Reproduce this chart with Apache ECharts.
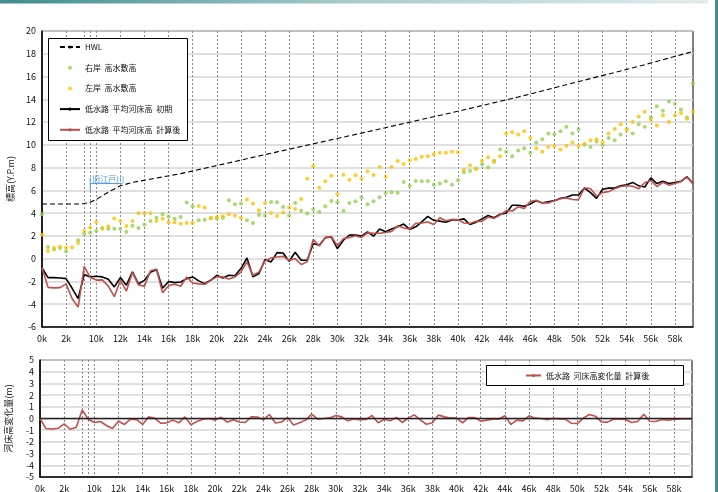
<!DOCTYPE html>
<html>
<head>
<meta charset="utf-8">
<script src="https://cdn.jsdelivr.net/npm/echarts@6/dist/echarts.min.js"></script>
<style>
  html, body { margin: 0; padding: 0; background: #fff; }
  #chart { width: 718px; height: 492px; }
</style>
</head>
<body>
<div id="chart"></div>
<script>
// Cross-section stations (km). The floodway runs 0-3.5k, the main channel resumes at 9.5k.
const stations = ['0','0.5','1','1.5','2','2.5','3','3.5','9.5','10','10.5','11','11.5','12','12.5','13','13.5','14','14.5','15','15.5','16','16.5','17','17.5','18','18.5','19','19.5','20','20.5','21','21.5','22','22.5','23','23.5','24','24.5','25','25.5','26','26.5','27','27.5','28','28.5','29','29.5','30','30.5','31','31.5','32','32.5','33','33.5','34','34.5','35','35.5','36','36.5','37','37.5','38','38.5','39','39.5','40','40.5','41','41.5','42','42.5','43','43.5','44','44.5','45','45.5','46','46.5','47','47.5','48','48.5','49','49.5','50','50.5','51','51.5','52','52.5','53','53.5','54','54.5','55','55.5','56','56.5','57','57.5','58','58.5','59','59.5'];

// Stations carrying a km label and a grid line
const labelStations = ['0','2','10','12','14','16','18','20','22','24','26','28','30','32','34','36','38','40','42','44','46','48','50','52','54','56','58'];
// Extra grid lines at the floodway end and the main-channel start
const junctionStations = ['3.5','9.5'];

// Design high water level (break points)
const hwl = [['0',4.8],['3',4.8],['3.5',4.85],['9.5',4.95],['10',5.2],['11',5.85],['12',6.4],['13',6.7],['17',7.47],['20',8.18],['25',9.38],['30',10.56],['33',11.27],['40',12.95],['45',14.2],['50',15.55],['55',16.9],['59.5',18.2]];

// Right-bank floodplain elevation
const rightBank = [3.9,1.03,0.8,0.95,0.65,null,1.62,2.2,
  2.3,2.43,2.7,2.64,2.64,2.64,2.36,
  2.9,2.7,3.0,3.3,3.6,3.9,3.7,3.5,
  3.66,4.93,4.6,3.37,3.43,3.55,3.54,3.6,5.13,4.78,
  4.84,3.37,3.13,3.84,3.78,4.98,4.95,4.54,3.78,4.9,
  4.22,3.96,4.37,4.1,4.6,5.07,4.95,4.22,4.9,5.04,
  5.39,4.78,5.04,5.39,5.77,5.83,5.8,6.74,6.41,6.82,
  6.8,6.82,6.5,
  6.6,6.8,6.5,6.9,7.6,7.7,7.9,8.3,8.0,8.6,
  9.6,9.4,9.0,9.5,9.7,9.3,10.2,10.5,11.0,10.9,
  11.2,11.6,11.0,11.4,10.0,9.8,10.3,10.0,10.6,10.4,
  10.9,11.4,11.0,11.8,11.6,12.4,13.4,13.0,13.8,13.6,
  13.1,12.4,15.4];

// Left-bank floodplain elevation
const leftBank = [2.1,0.68,0.95,1.05,0.98,0.98,1.38,2.43,
  2.73,3.23,2.64,2.85,3.52,3.31,2.87,
  3.3,4.0,4.0,4.0,3.3,3.5,3.2,3.2,
  3.08,3.13,3.13,4.63,4.49,3.6,3.66,3.72,3.9,3.78,
  3.6,5.21,4.84,4.25,4.9,4.02,3.75,4.05,4.49,4.37,
  5.24,7.03,8.11,6.24,6.8,7.29,5.65,7.38,6.94,7.32,
  7.03,7.67,7.35,8.05,7.23,8.05,8.58,8.32,8.64,8.76,
  8.96,8.99,9.17,
  9.3,9.3,9.4,9.35,7.8,8.2,7.9,8.6,8.9,8.5,
  9.0,11.0,11.1,10.9,11.2,10.6,9.7,9.4,9.8,9.9,
  9.6,9.9,10.2,9.9,10.1,10.4,10.5,10.2,11.0,11.4,
  11.8,11.3,12.0,12.5,12.9,12.2,11.7,12.6,12.0,12.6,
  12.8,12.3,12.9];

// Low-water channel mean bed elevation, initial
const bedInitial = [-0.78,-1.66,-1.66,-1.7,-1.75,-2.6,-3.5,-1.39,
  -1.6,-1.54,-1.6,-1.81,-2.48,-1.66,-2.33,
  -1.15,-2.2,-1.9,-1.2,-0.95,-2.6,-2.0,-2.1,
  -2.05,-1.75,-1.6,-1.95,-2.19,-1.9,-1.46,-1.7,-1.46,-1.5,
  -0.87,0.06,-1.6,-1.3,-0.08,-0.28,0.53,0.5,-0.22,0.56,
  -0.14,-0.14,1.33,1.18,1.85,1.9,0.88,1.62,2.07,2.07,
  1.98,2.36,1.98,2.6,2.36,2.6,2.8,3.04,2.57,2.8,
  3.24,3.72,3.37,
  3.3,3.2,3.4,3.4,3.5,3.0,3.2,3.5,3.8,3.6,
  3.9,4.0,4.7,4.7,4.6,4.8,5.1,4.9,5.0,5.1,
  5.3,5.4,5.6,5.6,6.2,5.8,5.3,6.1,6.2,6.2,
  6.4,6.5,6.7,6.4,6.3,7.1,6.6,6.8,6.6,6.7,
  6.8,7.2,6.6];

// Low-water channel mean bed elevation, computed
const bedComputed = [-0.78,-2.52,-2.56,-2.54,-2.21,-3.52,-4.25,-0.67,
  -1.66,-1.88,-1.86,-2.41,-3.34,-1.89,-2.84,
  -1.21,-2.3,-2.41,-1.06,-0.93,-3.0,-2.37,-2.24,
  -2.42,-1.61,-2.14,-2.21,-2.25,-1.9,-1.6,-1.6,-1.78,-1.6,
  -1.17,-0.28,-1.46,-1.17,-0.2,0.06,0.15,0.2,-0.14,0.0,
  -0.51,-0.28,1.7,1.12,1.85,1.95,1.14,1.76,1.87,2.02,
  1.87,2.27,2.24,2.23,2.3,2.4,2.89,2.7,2.6,3.11,
  3.13,3.23,3.0,
  3.59,3.34,3.45,3.43,3.13,3.09,3.29,3.27,3.66,3.54,
  3.84,4.23,4.19,4.56,4.4,5.03,5.13,4.9,4.89,5.1,
  5.27,5.34,5.2,5.17,6.23,6.14,5.5,5.81,5.89,6.14,
  6.34,6.41,6.36,6.14,6.67,6.87,6.34,6.71,6.46,6.61,
  6.77,7.17,6.57];

// Bed elevation change (computed minus initial)
const bedChange = [0.0,-0.86,-0.9,-0.84,-0.46,-0.92,-0.75,0.72,
  -0.06,-0.34,-0.26,-0.6,-0.86,-0.23,-0.51,
  -0.06,-0.1,-0.51,0.14,0.02,-0.4,-0.37,-0.14,
  -0.37,0.14,-0.54,-0.26,-0.06,0.0,-0.14,0.1,-0.32,-0.1,
  -0.3,-0.34,0.14,0.13,-0.12,0.34,-0.38,-0.3,0.08,-0.56,
  -0.37,-0.14,0.37,-0.06,0.0,0.05,0.26,0.14,-0.2,-0.05,
  -0.11,-0.09,0.26,-0.37,-0.06,-0.2,0.09,-0.34,0.03,0.31,
  -0.11,-0.49,-0.37,
  0.29,0.14,0.05,0.03,-0.37,0.09,0.09,-0.23,-0.14,-0.06,
  -0.06,0.23,-0.51,-0.14,-0.2,0.23,0.03,0.0,-0.11,0.0,
  -0.03,-0.06,-0.4,-0.43,0.03,0.34,0.2,-0.29,-0.31,-0.06,
  -0.06,-0.09,-0.34,-0.26,0.37,-0.23,-0.26,-0.09,-0.14,-0.09,
  -0.03,-0.03,-0.03];

const NAMES = {
  hwl: 'HWL',
  right: '右岸  高水敷高',
  left: '左岸  高水敷高',
  initial: '低水路  平均河床高  初期',
  computed: '低水路  平均河床高  計算後',
  change: '低水路  河床高変化量  計算後'
};

const FONT = '"Noto Sans CJK JP", "Noto Sans", sans-serif';
const labelSet = new Set(labelStations);
const gridSet = new Set(labelStations.concat(junctionStations));

function xAxisCfg(gridIndex) {
  return {
    type: 'category',
    gridIndex: gridIndex,
    data: stations,
    boundaryGap: false,
    axisLine: { show: true, onZero: false, lineStyle: { color: '#000', width: 1.5 } },
    axisTick: { show: false },
    axisLabel: {
      interval: (i, v) => labelSet.has(v),
      formatter: v => v + 'k',
      color: '#111', fontSize: 9, fontFamily: FONT, margin: 7
    },
    splitLine: {
      show: true,
      interval: (i, v) => gridSet.has(v),
      lineStyle: { color: '#8a8a8a', width: 1, type: [2, 2] }
    }
  };
}

function yAxisCfg(gridIndex, min, max, step, name) {
  return {
    type: 'value',
    gridIndex: gridIndex,
    min: min, max: max, interval: step,
    name: name,
    nameLocation: 'middle',
    nameRotate: 90,
    nameGap: 27,
    nameTextStyle: { color: '#222', fontSize: 9, fontFamily: FONT },
    axisLine: { show: true, lineStyle: { color: '#000', width: 1.5 } },
    axisTick: { show: false },
    axisLabel: { color: '#111', fontSize: 9, fontFamily: FONT, margin: 6 },
    splitLine: { show: true, lineStyle: { color: '#d6d6d6', width: 1.5 } }
  };
}

const chart = echarts.init(document.getElementById('chart'), null, { renderer: 'canvas' });

chart.setOption({
  animation: false,
  backgroundColor: '#fff',
  textStyle: { fontFamily: FONT },
  grid: [
    { left: 42, top: 31, width: 651, height: 296, show: true, borderColor: '#000', borderWidth: 1, outerBoundsMode: 'none' },
    { left: 40, top: 360, width: 652, height: 117, show: true, borderColor: '#000', borderWidth: 1, outerBoundsMode: 'none' }
  ],
  xAxis: [xAxisCfg(0), xAxisCfg(1)],
  yAxis: [
    yAxisCfg(0, -6, 20, 2, '標高(Y.P.m)'),
    yAxisCfg(1, -5, 5, 1, '河床高変化量(m)')
  ],
  legend: [
    {
      orient: 'vertical',
      left: 49, top: 38,
      padding: [4, 6, 5, 10],
      itemWidth: 20, itemHeight: 4, itemGap: 10.7,
      z: 6,
      textStyle: { color: '#111', fontSize: 8, lineHeight: 10, fontFamily: FONT },
      data: [
        { name: NAMES.hwl },
        { name: NAMES.right, icon: 'circle' },
        { name: NAMES.left, icon: 'circle' },
        { name: NAMES.initial },
        { name: NAMES.computed }
      ]
    },
    {
      orient: 'horizontal',
      left: 525, top: 370.5,
      padding: 0,
      itemWidth: 15, itemHeight: 4,
      z: 6,
      textStyle: { color: '#111', fontSize: 8, lineHeight: 10, fontFamily: FONT },
      data: [{ name: NAMES.change }]
    }
  ],
  graphic: [
    // header band and right edge stripe
    { id: 'header', type: 'rect', left: 0, top: 0, z: 10, shape: { width: 708, height: 3.5 },
      style: { fill: new echarts.graphic.LinearGradient(0, 0, 1, 0, [
        { offset: 0, color: '#3f8d8d' }, { offset: 0.5, color: '#a9cccc' }, { offset: 1, color: '#e3eded' }]) } },
    { id: 'edge', type: 'rect', left: 715, top: 0, z: 10, shape: { width: 3, height: 492 }, style: { fill: '#3f8d8d' } },
    // legend frames
    { id: 'legendFrameTop', type: 'rect', z: 5, shape: { x: 48.5, y: 38.5, width: 139, height: 102 },
      style: { fill: '#fff', stroke: '#000', lineWidth: 1 } },
    { id: 'legendFrameBottom', type: 'rect', z: 5, shape: { x: 486.5, y: 365.5, width: 197, height: 20 },
      style: { fill: '#fff', stroke: '#000', lineWidth: 1 } }
  ],
  series: [
    {
      name: NAMES.hwl, type: 'line', xAxisIndex: 0, yAxisIndex: 0,
      data: hwl, symbol: 'none', color: '#000',
      lineStyle: { color: '#000', width: 1.1, type: [5, 3] }, z: 3
    },
    {
      name: NAMES.right, type: 'scatter', xAxisIndex: 0, yAxisIndex: 0,
      data: rightBank, symbol: 'circle', symbolSize: 4,
      itemStyle: { color: '#92d050' }, color: '#92d050', z: 3
    },
    {
      name: NAMES.left, type: 'scatter', xAxisIndex: 0, yAxisIndex: 0,
      data: leftBank, symbol: 'circle', symbolSize: 4,
      itemStyle: { color: '#ffc000' }, color: '#ffc000', z: 3
    },
    {
      name: NAMES.initial, type: 'line', xAxisIndex: 0, yAxisIndex: 0,
      data: bedInitial, symbol: 'none', color: '#000',
      lineStyle: { color: '#000', width: 1.6 }, z: 3
    },
    {
      name: NAMES.computed, type: 'line', xAxisIndex: 0, yAxisIndex: 0,
      data: bedComputed, symbol: 'none', color: '#c0504d',
      lineStyle: { color: '#c0504d', width: 1.6 }, z: 4
    },
    {
      name: NAMES.change, type: 'line', xAxisIndex: 1, yAxisIndex: 1,
      data: bedChange, symbol: 'none', color: '#c0504d',
      lineStyle: { color: '#c0504d', width: 1.6 }, z: 4,
      markLine: {
        silent: true, symbol: 'none', label: { show: false },
        lineStyle: { color: '#222', width: 1.3, type: 'solid' },
        data: [{ yAxis: 0 }]
      }
    }
  ]
});

// Branch label for the old Edogawa at the main-channel start
const branch = junctionStations[1];
const pTop = chart.convertToPixel({ gridIndex: 0 }, [branch, 7.1]);
const pBot = chart.convertToPixel({ gridIndex: 0 }, [branch, 5.95]);
const pUnder = chart.convertToPixel({ gridIndex: 0 }, [branch, 6.6]);
chart.setOption({
  graphic: [
    { id: 'branchTick', type: 'polyline', z: 7, shape: { points: [[pTop[0], pTop[1]], [pBot[0], pBot[1]]] },
      style: { stroke: '#4a9be8', lineWidth: 1, fill: null } },
    { id: 'branchRule', type: 'line', z: 7, shape: { x1: pUnder[0], y1: pUnder[1], x2: pUnder[0] + 32, y2: pUnder[1] },
      style: { stroke: '#4a9be8', lineWidth: 1 } },
    { id: 'branchText', type: 'text', z: 7, x: pUnder[0] + 2, y: pUnder[1] - 0.5,
      style: { text: '旧江戸川', fill: '#4a9be8', font: '8px ' + FONT, textVerticalAlign: 'bottom' } }
  ]
});
</script>
</body>
</html>
